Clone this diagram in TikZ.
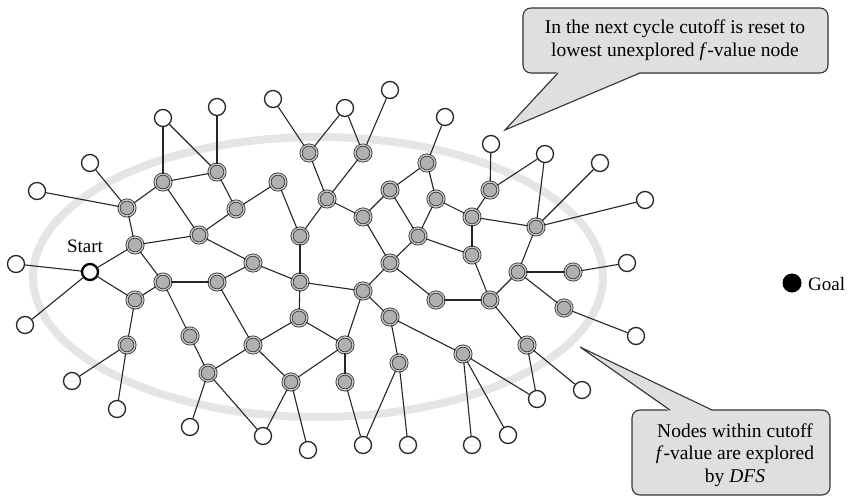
\documentclass[tikz,border=0pt]{standalone}
\usepackage{fontspec}
\setmainfont{Liberation Serif}
\begin{document}
\begin{tikzpicture}[x=1pt,y=-1pt,
  wnode/.style={circle,draw=black!85,line width=1.3pt,fill=white,minimum size=17pt,inner sep=0pt},
  gnode/.style={circle,draw=black!80,line width=0.8pt,double=gray!45,double distance=1.4pt,fill=gray!62,minimum size=16pt,inner sep=0pt},
  startnode/.style={circle,draw=black,line width=2.3pt,fill=white,minimum size=16pt,inner sep=0pt},
  goalnode/.style={circle,fill=black,minimum size=19pt,inner sep=0pt},
  edge/.style={draw=black!85,line width=1.1pt},
  ring/.style={draw=gray!20,line width=8pt},
  callout/.style={draw=black!80,line width=1.1pt,fill=gray!25},
  ctext/.style={align=center,font=\fontsize{19.5}{22.5}\selectfont,inner sep=0pt},
  lbl/.style={font=\fontsize{19}{22}\selectfont,inner sep=0pt}]
\useasboundingbox (0,0) rectangle (855,499);
% cutoff ellipse
\draw[ring] (318,277) ellipse [x radius=285pt, y radius=140pt];
% white (unexplored) nodes
\node[wnode] (w1) at (37,191) {};
\node[wnode] (w2) at (90,163) {};
\node[wnode] (w3) at (163,118) {};
\node[wnode] (w4) at (217,107) {};
\node[wnode] (w5) at (273,99) {};
\node[wnode] (w6) at (345,108) {};
\node[wnode] (w7) at (390,90) {};
\node[wnode] (w8) at (445,117) {};
\node[wnode] (w9) at (491,144) {};
\node[wnode] (w10) at (545,154) {};
\node[wnode] (w11) at (600,163) {};
\node[wnode] (w12) at (645,200) {};
\node[wnode] (w13) at (627,263) {};
\node[wnode] (w14) at (16,264) {};
\node[wnode] (w15) at (25,325) {};
\node[wnode] (w16) at (72,381) {};
\node[wnode] (w17) at (117,409) {};
\node[wnode] (w18) at (190,427) {};
\node[wnode] (w19) at (263,436) {};
\node[wnode] (w20) at (308,450) {};
\node[wnode] (w21) at (363,445) {};
\node[wnode] (w22) at (408,445) {};
\node[wnode] (w23) at (472,445) {};
\node[wnode] (w24) at (508,435) {};
\node[wnode] (w25) at (537,399) {};
\node[wnode] (w26) at (582,390) {};
\node[wnode] (w27) at (636,336) {};
% start and goal
\node[startnode] (s) at (90,272) {};
\node[lbl] (slbl) at (85,246) {Start};
\node[goalnode] (goal) at (792,283) {};
\node[lbl,anchor=west] (glbl) at (808,284) {Goal};
% grey (explored) nodes
\node[gnode] (a) at (127,208) {};
\node[gnode] (b) at (163,182) {};
\node[gnode] (c) at (217,172) {};
\node[gnode] (d) at (236,209) {};
\node[gnode] (e) at (278,182) {};
\node[gnode] (f) at (135,245) {};
\node[gnode] (g) at (199,235) {};
\node[gnode] (h) at (253,263) {};
\node[gnode] (i) at (163,282) {};
\node[gnode] (j) at (217,282) {};
\node[gnode] (k) at (135,300) {};
\node[gnode] (l) at (127,345) {};
\node[gnode] (m) at (190,336) {};
\node[gnode] (n) at (208,373) {};
\node[gnode] (o) at (253,345) {};
\node[gnode] (p) at (291,382) {};
\node[gnode] (q) at (309,153) {};
\node[gnode] (r) at (363,153) {};
\node[gnode] (t) at (327,199) {};
\node[gnode] (u) at (300,236) {};
\node[gnode] (v) at (363,217) {};
\node[gnode] (x) at (390,190) {};
\node[gnode] (y) at (427,163) {};
\node[gnode] (z) at (436,199) {};
\node[gnode] (aa) at (418,236) {};
\node[gnode] (bb) at (390,263) {};
\node[gnode] (cc) at (472,217) {};
\node[gnode] (dd) at (490,190) {};
\node[gnode] (ee) at (472,255) {};
\node[gnode] (ff) at (536,227) {};
\node[gnode] (gg) at (518,272) {};
\node[gnode] (hh) at (300,282) {};
\node[gnode] (ii) at (363,291) {};
\node[gnode] (jj) at (436,300) {};
\node[gnode] (kk) at (490,300) {};
\node[gnode] (ll) at (299,318) {};
\node[gnode] (mm) at (390,317) {};
\node[gnode] (nn) at (345,345) {};
\node[gnode] (oo) at (399,363) {};
\node[gnode] (pp) at (463,354) {};
\node[gnode] (qq) at (527,345) {};
\node[gnode] (rr) at (345,382) {};
\node[gnode] (ss) at (564,308) {};
\node[gnode] (tt) at (573,272) {};
% edges
\foreach \u/\v in {w3/b,w3/c,w4/c,w2/a,w1/a,a/b,b/c,c/d,d/e,w5/q,a/f,b/g,f/g,g/h,d/g,h/hh,e/u,s/f,f/i,w14/s,
  q/w6,w6/r,r/w7,q/t,r/t,t/u,t/v,v/x,x/y,y/w8,y/z,x/aa,z/aa,v/bb,aa/bb,z/cc,cc/dd,dd/w9,dd/w10,cc/ee,cc/ff,
  ff/w10,ff/gg,gg/tt,aa/ee,ff/w11,ff/w12,ee/kk,u/hh,hh/ii,hh/ll,ii/bb,bb/jj,jj/kk,kk/gg,kk/qq,gg/ss,ii/mm,
  ii/nn,ll/nn,o/ll,mm/pp,mm/oo,nn/p,nn/rr,rr/w21,oo/w21,oo/w22,pp/w23,pp/w24,pp/w25,qq/w25,qq/w26,p/w19,
  p/w20,o/p,s/w15,s/k,k/i,i/j,j/h,i/m,j/o,k/l,l/w16,l/w17,m/n,n/o,n/w18,n/w19,tt/w13,ss/w27}
  \draw[edge] (\u) -- (\v);
% top callout
\draw[callout,rounded corners=8pt] (523,8) rectangle (828,73);
\fill[gray!25] (557.5,72) -- (505,130) -- (641,72) -- cycle;
\draw[draw=black!80,line width=1.1pt] (558,73) -- (505,130) -- (640,73);
\node[ctext] (ct) at (675,40) {In the next cycle cutoff is reset to\\lowest unexplored \textit{f}-value node};
% bottom callout
\draw[callout,rounded corners=8pt] (632,410) rectangle (830,495);
\fill[gray!25] (669,411) -- (580,347) -- (713,411) -- cycle;
\draw[draw=black!80,line width=1.1pt] (670,410) -- (580,347) -- (712,410);
\node[ctext] (cb) at (735,455) {Nodes within cutoff\\\textit{f}-value are explored\\by \textit{DFS}};
\end{tikzpicture}
\end{document}
